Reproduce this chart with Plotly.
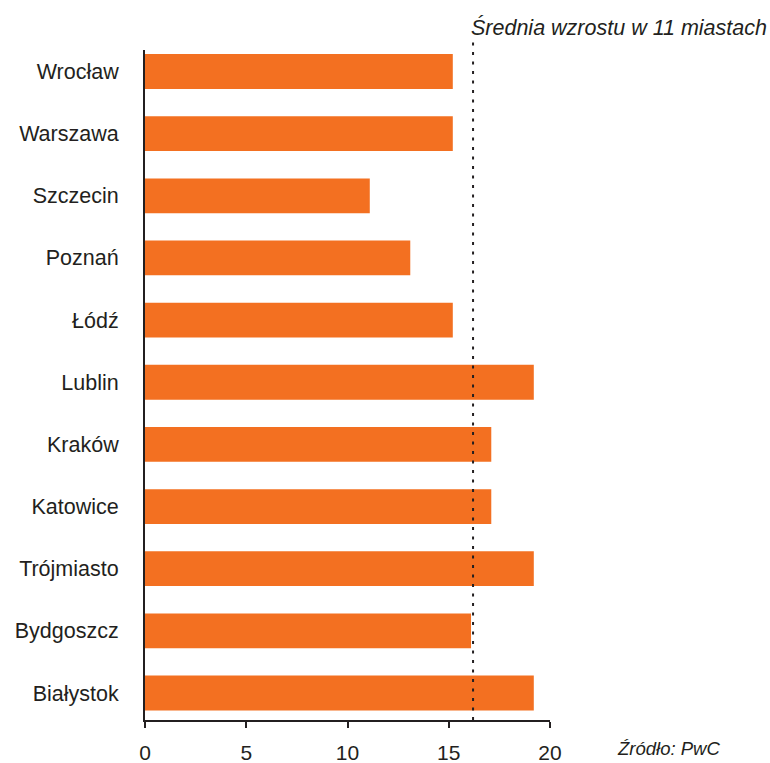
import plotly.graph_objects as go

cities = ["Wrocław", "Warszawa", "Szczecin", "Poznań", "Łódź", "Lublin",
          "Kraków", "Katowice", "Trójmiasto", "Bydgoszcz", "Białystok"]
growth = [15.2, 15.2, 11.1, 13.1, 15.2, 19.2, 17.1, 17.1, 19.2, 16.1, 19.2]
average = 16.2
x_ticks = [0, 5, 10, 15, 20]

avg_label = "Średnia wzrostu w 11 miastach"
source_label = "Źródło: PwC"

FONT = "Liberation Sans, Arial, Helvetica, sans-serif"
TXT = "#231f20"
ORANGE = "#F37021"

fig = go.Figure(go.Bar(
    x=growth, y=cities, orientation="h",
    marker=dict(color=ORANGE, line=dict(width=0)),
    width=0.56, hoverinfo="x+y",
))

fig.update_layout(
    width=770, height=763,
    margin=dict(l=145, r=220, t=50, b=43),
    paper_bgcolor="white", plot_bgcolor="white",
    font=dict(family=FONT, color=TXT, size=21),
    showlegend=False,
)
fig.update_xaxes(
    range=[0, 20], tickvals=x_ticks, ticks="outside", ticklen=6, tickwidth=2,
    tickcolor=TXT, showline=True, linecolor=TXT, linewidth=2, showgrid=False,
    zeroline=False, ticklabelstandoff=7, tickfont=dict(size=21, color=TXT),
    automargin=False,
)
fig.update_yaxes(
    categoryorder="array", categoryarray=cities[::-1],
    range=[-0.434, 10.346], showline=True, linecolor=TXT, linewidth=2,
    showgrid=False, ticks="", ticklabelstandoff=20,
    tickfont=dict(size=21.5, color=TXT), automargin=False,
)

fig.add_shape(type="line", xref="x", yref="paper", x0=average, x1=average,
              y0=0, y1=1.018, line=dict(color=TXT, width=2, dash="3px,6.5px"))

fig.add_annotation(x=average, xref="x", y=1.034, yref="paper",
                   text=avg_label, showarrow=False, xanchor="left",
                   yanchor="middle", xshift=-4,
                   font=dict(family=FONT, size=21.5, color=TXT, style="italic"))
fig.add_annotation(x=1.425, xref="paper", y=-0.042, yref="paper",
                   text=source_label, showarrow=False, xanchor="right",
                   yanchor="middle",
                   font=dict(family=FONT, size=18.5, color=TXT, style="italic"))

fig.write_html("out.html", config={"displayModeBar": False},
               post_script="document.body.style.margin='0';"
                           "document.body.style.overflow='hidden';")
